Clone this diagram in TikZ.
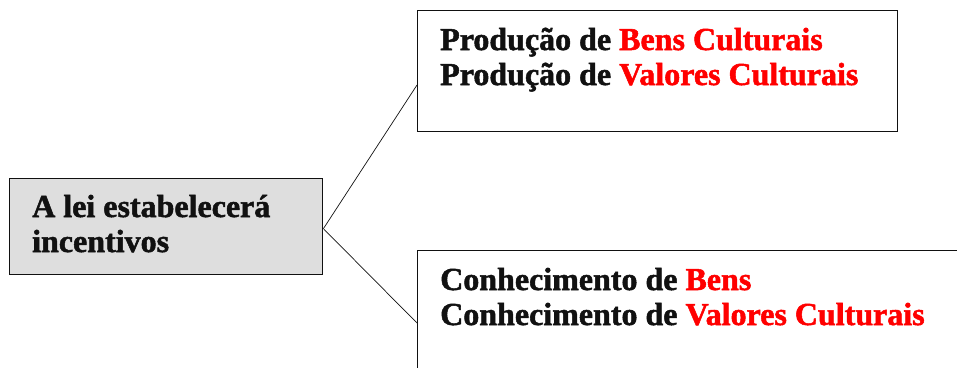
\documentclass[tikz,border=0pt]{standalone}
\usepackage{fontspec}
\setmainfont[BoldFeatures={FakeBold=1.6}]{Liberation Serif}
\usepackage{xcolor}
\usepackage{tikz}
\usetikzlibrary{calc}
\definecolor{ink}{HTML}{111111}
\definecolor{hot}{HTML}{FF0000}
\definecolor{panel}{HTML}{DEDEDE}
\tikzset{
  box/.style={draw=ink, line width=1.4pt, rectangle, inner sep=0pt, anchor=north west},
  shade/.style={box, fill=panel},
  wire/.style={draw=ink, line width=0.7pt},
  txt/.style={anchor=base west, inner sep=0pt, text=ink, font=\fontsize{32}{35}\selectfont\bfseries},
}
\newcommand{\hl}[1]{\textcolor{hot}{#1}}

\begin{document}
\begin{tikzpicture}[x=1pt,y=-1pt]
  \useasboundingbox (0,0) rectangle (957,367);
  % boxes
  \node[shade, minimum width=313pt, minimum height=96pt] (lei) at (9,178) {};
  \node[box, minimum width=480pt, minimum height=121pt] (prod) at (417,10) {};
  \node[box, minimum width=560pt, minimum height=150pt] (conh) at (417,250) {};
  % texts
  \node[txt] (leiA) at (32,217) {A lei estabelecerá};
  \node[txt] (leiB) at (32,252) {incentivos};
  \node[txt] (prodA) at (440,50) {Produção de \hl{Bens Culturais}};
  \node[txt] (prodB) at (440,85) {Produção de \hl{Valores Culturais}};
  \node[txt] (conhA) at (440,290) {Conhecimento de \hl{Bens}};
  \node[txt] (conhB) at (440,325) {Conhecimento de \hl{Valores Culturais}};
  % connectors
  \coordinate (split) at ($(lei.north east)!0.52!(lei.south east)$);
  \coordinate (pinA) at (417,85);
  \coordinate (pinB) at (417,323);
  \draw[wire] (split) -- (pinA);
  \draw[wire] (split) -- (pinB);
\end{tikzpicture}
\end{document}
